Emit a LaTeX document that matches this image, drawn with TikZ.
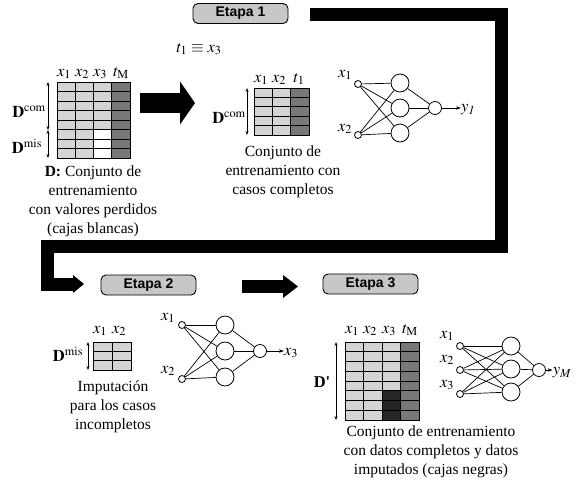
\documentclass[tikz,border=0pt]{standalone}
\usepackage{mathptmx}
\usepackage{fontspec}
\setmainfont{Liberation Serif}
\setsansfont{Liberation Sans}
\usetikzlibrary{arrows.meta,positioning}

\definecolor{celllight}{gray}{0.83}
\definecolor{celldark}{gray}{0.47}
\definecolor{cellblack}{gray}{0.15}
\definecolor{stagegray}{gray}{0.78}

\tikzset{
    stage/.style={draw, rounded corners=5pt, fill=stagegray, minimum width=95pt, minimum height=20pt,
        inner sep=0pt, line width=0.9pt, font=\sffamily\bfseries\fontsize{14}{16}\selectfont},
    cell/.style={draw, line width=0.9pt},
    caption/.style={align=center, inner sep=0pt, font=\fontsize{15.5}{18.7}\selectfont},
    lbl/.style={inner sep=0pt, font=\fontsize{16.5}{18}\selectfont},
    innode/.style={circle, draw, fill=white, minimum size=7pt, inner sep=0pt, line width=0.8pt},
    hidnode/.style={circle, draw, fill=white, minimum size=18pt, inner sep=0pt, line width=0.8pt},
    outnode/.style={circle, draw, fill=white, minimum size=13pt, inner sep=0pt, line width=0.8pt},
    link/.style={line width=0.7pt},
    outarrow/.style={line width=0.7pt, -{Stealth[length=5pt,width=3.5pt]}},
    dimarrow/.style={line width=0.7pt, {Stealth[length=4pt,width=3pt]}-{Stealth[length=4pt,width=3pt]}},
}

\begin{document}
\begin{tikzpicture}[x=1pt,y=-1pt]
    \useasboundingbox (0,0) rectangle (585,480);

    % etapas
    \node[stage] (etapa1) at (240.5,13.5) {Etapa 1};
    \node[stage] (etapa2) at (148.5,285) {Etapa 2};
    \node[stage] (etapa3) at (370.5,284) {Etapa 3};

    % flechas gruesas
    \coordinate (f1a) at (140,103);
    \coordinate (f1b) at (195,103);
    \draw[line width=20pt, -{Triangle[length=15pt,width=43pt,line width=0pt]}] (f1a) -- (f1b);

    \coordinate (l0) at (310,14.5);
    \coordinate (l1) at (501.5,14.5);
    \coordinate (l2) at (501.5,246.5);
    \coordinate (l3) at (47.5,246.5);
    \coordinate (l4) at (47.5,284);
    \coordinate (l5) at (84,284);
    \draw[line width=13pt, -{Triangle[length=11pt,width=18pt,line width=0pt]}] (l0) -- (l1) -- (l2) -- (l3) -- (l4) -- (l5);

    \coordinate (f3a) at (242,286.5);
    \coordinate (f3b) at (298,286.5);
    \draw[line width=13pt, -{Triangle[length=15pt,width=23pt,line width=0pt]}] (f3a) -- (f3b);

    % tabla D
    \foreach \c in {0,1,2}
        \foreach \r in {0,...,7}
            \draw[cell, fill=celllight] ({57+18.25*\c},{82+9.5*\r}) rectangle ++(18.25,9.5);
    \foreach \r in {0,...,7}
        \draw[cell, fill=celldark] ({57+18.25*3},{82+9.5*\r}) rectangle ++(18.25,9.5);
    \foreach \r in {5,6,7}
        \draw[cell, fill=white] ({57+18.25*2},{82+9.5*\r}) rectangle ++(18.25,9.5);
    \node[lbl, anchor=base] (hD1) at (64,76) {$x_1$};
    \node[lbl, anchor=base] (hD2) at (82,76) {$x_2$};
    \node[lbl, anchor=base] (hD3) at (100,76) {$x_3$};
    \node[lbl, anchor=base] (hD4) at (121,76) {$t_{\mathrm{M}}$};
    \coordinate (dD0) at (48,82);
    \coordinate (dD1) at (48,130);
    \coordinate (dD2) at (48,158);
    \draw[dimarrow] (dD0) -- (dD1);
    \draw[dimarrow] (dD1) -- (dD2);
    \node[lbl, anchor=base] (Dcom1) at (29,117) {$\mathbf{D}^{\mathrm{com}}$};
    \node[lbl, anchor=base] (Dmis1) at (27,153) {$\mathbf{D}^{\mathrm{mis}}$};
    \node[caption, anchor=north] (capD) at (93,166) {\textbf{D:} Conjunto de\\entrenamiento\\con valores perdidos\\(cajas blancas)};

    % tabla casos completos
    \node[lbl, anchor=base] (eq) at (199,52) {$t_1\equiv x_3$};
    \foreach \c in {0,1}
        \foreach \r in {0,...,4}
            \draw[cell, fill=celllight] ({254+18.33*\c},{88+9.4*\r}) rectangle ++(18.33,9.4);
    \foreach \r in {0,...,4}
        \draw[cell, fill=celldark] ({254+18.33*2},{88+9.4*\r}) rectangle ++(18.33,9.4);
    \node[lbl, anchor=base] (hC1) at (261,82) {$x_1$};
    \node[lbl, anchor=base] (hC2) at (279,82) {$x_2$};
    \node[lbl, anchor=base] (hC3) at (299,82) {$t_1$};
    \coordinate (dC0) at (247,88);
    \coordinate (dC1) at (247,135);
    \draw[dimarrow] (dC0) -- (dC1);
    \node[lbl, anchor=base] (Dcom2) at (229,123) {$\mathbf{D}^{\mathrm{com}}$};
    \node[caption, anchor=north] (capC) at (283,146) {Conjunto de\\entrenamiento con\\casos completos};

    % red etapa 1
    \node[innode] (a1) at (358,84) {};
    \node[innode] (a2) at (358,135) {};
    \node[hidnode] (ah1) at (400,83) {};
    \node[hidnode] (ah2) at (400,108) {};
    \node[hidnode] (ah3) at (400,133) {};
    \node[outnode] (ao) at (435,108) {};
    \node[lbl] (ay) at (468,110) {$y_{\mathit{1}}$};
    \node[lbl] (ax1) at (345,75) {$x_1$};
    \node[lbl] (ax2) at (345,129) {$x_2$};
    \foreach \i in {1,2}
        \foreach \h in {1,2,3}
            \draw[link] (a\i) -- (ah\h);
    \foreach \h in {1,2,3}
        \draw[link] (ah\h) -- (ao);
    \draw[outarrow] (ao) -- (ao -| ay.west);

    % tabla D mis
    \foreach \c in {0,1}
        \foreach \r in {0,1,2}
            \draw[cell, fill=celllight] ({93+19*\c},{342+9.33*\r}) rectangle ++(19,9.33);
    \node[lbl, anchor=base] (hM1) at (100,333) {$x_1$};
    \node[lbl, anchor=base] (hM2) at (119,333) {$x_2$};
    \coordinate (dM0) at (88,342);
    \coordinate (dM1) at (88,370);
    \draw[dimarrow] (dM0) -- (dM1);
    \node[lbl, anchor=base] (Dmis2) at (68,361) {$\mathbf{D}^{\mathrm{mis}}$};
    \node[caption, anchor=north] (capM) at (113,381) {Imputación\\para los casos\\incompletos};

    % red etapa 2
    \node[innode] (b1) at (182,325) {};
    \node[innode] (b2) at (182,379) {};
    \node[hidnode] (bh1) at (225,325) {};
    \node[hidnode] (bh2) at (225,351) {};
    \node[hidnode] (bh3) at (225,377) {};
    \node[outnode] (bo) at (260,351) {};
    \node[lbl] (by) at (291,353) {$x_3$};
    \node[lbl] (bx1) at (168,318) {$x_1$};
    \node[lbl] (bx2) at (168,371) {$x_2$};
    \foreach \i in {1,2}
        \foreach \h in {1,2,3}
            \draw[link] (b\i) -- (bh\h);
    \foreach \h in {1,2,3}
        \draw[link] (bh\h) -- (bo);
    \draw[outarrow] (bo) -- (bo -| by.west);

    % tabla D'
    \foreach \c in {0,1,2}
        \foreach \r in {0,...,7}
            \draw[cell, fill=celllight] ({345+18.5*\c},{342+9.75*\r}) rectangle ++(18.5,9.75);
    \foreach \r in {0,...,7}
        \draw[cell, fill=celldark] ({345+18.5*3},{342+9.75*\r}) rectangle ++(18.5,9.75);
    \foreach \r in {5,6,7}
        \draw[cell, fill=cellblack] ({345+18.5*2},{342+9.75*\r}) rectangle ++(18.5,9.75);
    \node[lbl, anchor=base] (hP1) at (352,333) {$x_1$};
    \node[lbl, anchor=base] (hP2) at (370,333) {$x_2$};
    \node[lbl, anchor=base] (hP3) at (389,333) {$x_3$};
    \node[lbl, anchor=base] (hP4) at (410,333) {$t_{\mathrm{M}}$};
    \coordinate (dP0) at (336,342);
    \coordinate (dP1) at (336,420);
    \draw[dimarrow] (dP0) -- (dP1);
    \node[lbl, anchor=base] (Dp) at (322,387) {\bfseries D\textquotesingle};
    \node[caption, anchor=north] (capP) at (431,426) {Conjunto de entrenamiento\\con datos completos y datos\\imputados (cajas negras)};

    % red etapa 3
    \node[innode] (c1) at (460,346) {};
    \node[innode] (c2) at (460,370) {};
    \node[innode] (c3) at (460,394) {};
    \node[hidnode] (ch1) at (511,346) {};
    \node[hidnode] (ch2) at (511,369) {};
    \node[hidnode] (ch3) at (511,392) {};
    \node[outnode] (co) at (539,370) {};
    \node[lbl] (cy) at (562,373) {$y_{M}$};
    \node[lbl] (cx1) at (447,336) {$x_1$};
    \node[lbl] (cx2) at (447,360) {$x_2$};
    \node[lbl] (cx3) at (447,385) {$x_3$};
    \foreach \i in {1,2,3}
        \foreach \h in {1,2,3}
            \draw[link] (c\i) -- (ch\h);
    \foreach \h in {1,2,3}
        \draw[link] (ch\h) -- (co);
    \draw[outarrow] (co) -- (co -| cy.west);
\end{tikzpicture}
\end{document}
